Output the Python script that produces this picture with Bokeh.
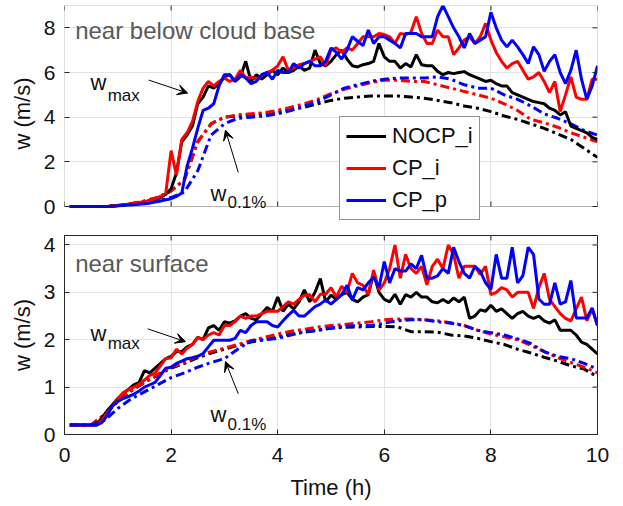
import numpy as np
from bokeh.plotting import figure
from bokeh.layouts import column
from bokeh.models import (Range1d, FixedTicker, Legend, LegendItem,
                          Label, Arrow, VeeHead, BoxAnnotation)
from bokeh.embed import file_html
from bokeh.resources import INLINE

# ---------------- data ----------------
t_max = [round(0.1 * i, 1) for i in range(1, 101)]
t_pct = [0.1, 0.25, 0.5, 0.75, 1.0, 1.25, 1.5, 1.75, 2.0, 2.25, 2.5, 2.75, 3.0, 3.25,
         3.5, 3.75, 4.0, 4.25, 4.5, 4.75, 5.0, 5.25, 5.5, 5.75, 6.0, 6.25, 6.5, 6.75,
         7.0, 7.25, 7.5, 7.75, 8.0, 8.25, 8.5, 8.75, 9.0, 9.25, 9.5, 9.75, 10.0]

# near below cloud base: w_max
cb_max_nocp_i = [0, 0, 0, 0, 0, 0, 0, 0, 0.02,
                 0.05, 0.08, 0.1, 0.12, 0.15, 0.2, 0.25, 0.3, 0.4, 0.55,
                 0.8, 1.5, 2.9, 3.2, 3.6, 4.6, 4.9, 5.4, 5.3, 5.5,
                 5.8, 5.9, 5.6, 5.8, 6.5, 5.6, 5.9, 5.7, 5.9, 6.1,
                 5.9, 6.2, 6.0, 6.1, 6.3, 6.1, 6.2, 7.0, 6.4, 6.3,
                 6.5, 6.8, 7.0, 6.6, 6.3, 6.25, 6.35, 6.4, 6.5, 7.3,
                 6.7, 6.5, 6.5, 6.2, 6.4, 6.25, 6.8, 6.35, 6.3, 6.3,
                 6.05, 5.9, 6.0, 5.95, 6.0, 6.04, 5.9, 5.8, 5.7, 5.6,
                 5.65, 5.5, 5.4, 5.4, 5.1, 5.0, 4.9, 4.8, 4.7, 4.65,
                 4.6, 4.4, 4.3, 4.1, 4.24, 3.6, 3.5, 3.4, 3.3, 3.1,
                 3.0]
cb_max_cp_i = [0, 0, 0, 0, 0, 0, 0, 0, 0.02,
               0.05, 0.08, 0.1, 0.15, 0.18, 0.22, 0.28, 0.35, 0.45, 0.6,
               2.5, 1.4, 3.0, 3.3, 3.8, 4.7, 5.3, 5.6, 5.4, 5.6,
               5.75, 5.6, 5.7, 6.1, 5.75, 5.8, 5.7, 5.85, 6.0, 6.1,
               6.3, 6.7, 6.1, 6.2, 6.35, 6.4, 6.5, 6.6, 6.7, 6.3,
               7.0, 7.1, 6.9, 7.1, 7.0, 7.3, 7.6, 7.6, 7.6, 7.75,
               7.7, 7.6, 7.3, 7.75, 7.7, 7.8, 8.5, 7.75, 7.3, 7.3,
               7.9, 7.6, 7.6, 6.8, 7.1, 7.45, 7.6, 7.3, 7.6, 8.2,
               7.45, 6.9, 6.5, 6.2, 6.4, 6.5, 6.1, 5.7, 5.8, 6.0,
               5.6, 5.1, 5.6, 4.25, 5.0, 5.8, 4.9, 4.8, 4.8, 5.7,
               5.7]
cb_max_cp_p = [0, 0, 0, 0, 0, 0, 0, 0, 0.01,
               0.03, 0.05, 0.07, 0.08, 0.1, 0.12, 0.15, 0.2, 0.25, 0.3,
               0.35, 0.45, 0.6, 1.8, 2.6, 3.5, 4.3, 4.4, 4.6, 5.4,
               5.9, 5.9, 5.6, 5.9, 5.75, 5.5, 5.6, 5.9, 6.0, 5.7,
               6.1, 6.0, 6.0, 6.4, 6.2, 6.4, 6.5, 6.3, 6.3, 6.5,
               7.1, 6.9, 6.6, 7.0, 7.6, 7.4, 7.2, 7.9, 7.3, 7.6,
               7.6, 7.45, 7.3, 7.1, 7.75, 7.75, 7.75, 7.6, 7.6, 7.6,
               8.5, 9.0, 8.5, 8.0, 7.6, 7.1, 7.75, 7.3, 7.45, 7.6,
               8.7, 8.0, 7.45, 7.15, 7.45, 7.15, 6.8, 6.4, 7.15, 6.8,
               6.05, 6.5, 6.8, 6.0, 5.5, 6.1, 7.0, 5.7, 4.8, 5.4,
               6.3]

# near below cloud base: w_0.1%
cb_pct_nocp_i = [0, 0, 0, 0, 0.05, 0.12, 0.25, 0.4, 0.7, 1.2, 2.9, 3.7, 4.0, 4.05,
                 4.1, 4.15, 4.2, 4.35, 4.45, 4.6, 4.75, 4.85, 4.9, 4.95, 4.95, 4.95,
                 4.9, 4.85, 4.75, 4.65, 4.5, 4.4, 4.25, 4.05, 3.9, 3.7, 3.5, 3.25,
                 3.0, 2.6, 2.2]
cb_pct_cp_i = [0, 0, 0, 0, 0.05, 0.12, 0.25, 0.4, 0.7, 1.2, 2.9, 3.7, 4.0, 4.1,
               4.15, 4.2, 4.3, 4.45, 4.6, 4.8, 5.05, 5.25, 5.4, 5.55, 5.65, 5.65,
               5.6, 5.6, 5.45, 5.3, 5.15, 5.0, 4.85, 4.6, 4.3, 3.9, 3.75, 3.55,
               3.3, 3.1, 2.9]
cb_pct_cp_p = [0, 0, 0, 0, 0.03, 0.08, 0.15, 0.25, 0.4, 0.65, 1.6, 3.2, 3.7, 3.95,
               4.0, 4.05, 4.15, 4.3, 4.5, 4.7, 5.0, 5.3, 5.45, 5.6, 5.7, 5.75,
               5.75, 5.75, 5.8, 5.7, 5.45, 5.3, 5.3, 5.0, 4.8, 4.5, 4.15, 3.95,
               3.7, 3.4, 3.2]

# near surface: w_max
sf_max_nocp_i = [0.2, 0.2, 0.2, 0.2, 0.2, 0.2, 0.35, 0.5, 0.63,
                 0.76, 0.87, 0.95, 1.05, 1.1, 1.35, 1.3, 1.4, 1.5, 1.6,
                 1.65, 1.75, 1.75, 1.85, 1.9, 2.05, 2.0, 2.25, 2.3, 2.2,
                 2.38, 2.35, 2.4, 2.5, 2.55, 2.45, 2.42, 2.55, 2.68, 2.6,
                 2.9, 2.6, 2.75, 2.65, 2.8, 3.05, 2.8, 3.0, 3.29, 2.8,
                 2.94, 2.85, 2.95, 3.0, 2.85, 2.8, 2.9, 2.95, 3.4, 3.0,
                 2.85, 2.8, 2.96, 2.75, 2.95, 2.9, 3.0, 2.9, 2.9, 2.8,
                 2.78, 2.85, 2.78, 2.88, 2.8, 2.9, 2.45, 2.5, 2.63, 2.6,
                 2.73, 2.6, 2.65, 2.55, 2.45, 2.55, 2.6, 2.5, 2.45, 2.5,
                 2.4, 2.35, 2.42, 2.2, 2.2, 2.2, 2.1, 1.95, 1.9, 1.8,
                 1.7]
sf_max_cp_i = [0.2, 0.2, 0.2, 0.2, 0.2, 0.2, 0.3, 0.45, 0.6,
               0.75, 0.88, 0.95, 1.0, 1.06, 1.15, 1.25, 1.3, 1.45, 1.6,
               1.62, 1.8, 1.7, 1.82, 1.9, 2.05, 2.0, 2.1, 2.15, 2.1,
               2.3, 2.3, 2.38, 2.5, 2.45, 2.5, 2.5, 2.55, 2.6, 2.6,
               2.6, 2.7, 2.8, 2.75, 2.85, 2.94, 2.95, 2.8, 2.96, 2.96,
               3.1, 2.9, 3.13, 3.0, 3.4, 3.2, 3.15, 2.95, 3.47, 3.05,
               3.2, 3.5, 4.0, 3.3, 3.8, 3.5, 3.4, 3.55, 3.16, 3.55,
               3.7, 3.5, 4.0, 3.8, 3.3, 3.55, 3.55, 3.55, 3.38, 3.55,
               2.95, 3.0, 3.1, 3.05, 2.9, 3.0, 3.0, 3.0, 2.66, 3.1,
               3.4, 2.85, 2.7, 2.55, 2.45, 2.4, 2.65, 2.9, 2.4, 2.65,
               2.3]
sf_max_cp_p = [0.2, 0.2, 0.2, 0.2, 0.2, 0.2, 0.25, 0.4, 0.6,
               0.7, 0.76, 0.8, 0.85, 0.92, 1.0, 1.05, 1.1, 1.25, 1.4,
               1.42, 1.5, 1.55, 1.6, 1.62, 1.65, 1.71, 1.85, 1.99, 1.99,
               1.99, 1.99, 2.03, 2.2, 2.15, 2.3, 2.38, 2.38, 2.38, 2.3,
               2.27, 2.4, 2.52, 2.62, 2.5, 2.5, 2.6, 2.7, 2.75, 2.84,
               2.75, 2.85, 2.95, 3.15, 2.84, 3.1, 3.05, 3.2, 3.32, 3.1,
               3.65, 3.2, 3.5, 3.45, 3.45, 3.6, 3.5, 3.78, 3.3, 3.3,
               3.35, 3.5, 3.4, 3.95, 3.65, 3.4, 3.3, 3.55, 3.45, 3.2,
               3.06, 3.8, 3.3, 3.3, 3.95, 3.2, 3.35, 3.95, 3.8, 2.86,
               2.75, 2.75, 3.2, 2.75, 2.8, 3.25, 2.46, 2.46, 2.46, 2.67,
               2.3]

# near surface: w_0.1%
sf_pct_nocp_i = [0.2, 0.2, 0.2, 0.42, 0.7, 0.92, 1.1, 1.25, 1.4, 1.5, 1.62, 1.72,
                 1.8, 1.88, 1.95, 2.0, 2.06, 2.12, 2.16, 2.2, 2.24, 2.26, 2.27,
                 2.28, 2.28, 2.27, 2.17, 2.17, 2.16, 2.1, 2.08, 2.03, 1.96, 1.9,
                 1.8, 1.72, 1.63, 1.55, 1.45, 1.38, 1.22]
sf_pct_cp_i = [0.2, 0.2, 0.2, 0.42, 0.7, 0.93, 1.1, 1.27, 1.42, 1.52, 1.65, 1.75,
               1.82, 1.9, 1.98, 2.05, 2.12, 2.18, 2.22, 2.27, 2.3, 2.32, 2.35,
               2.38, 2.42, 2.44, 2.44, 2.42, 2.4, 2.36, 2.3, 2.2, 2.12, 2.06,
               2.0, 1.88, 1.75, 1.62, 1.52, 1.42, 1.3]
sf_pct_cp_p = [0.2, 0.2, 0.2, 0.3, 0.55, 0.75, 0.9, 1.05, 1.2, 1.3, 1.42, 1.52,
               1.6, 1.8, 1.98, 2.0, 2.03, 2.1, 2.17, 2.2, 2.25, 2.28, 2.3, 2.3,
               2.35, 2.4, 2.42, 2.42, 2.38, 2.35, 2.3, 2.2, 2.15, 2.1, 2.02,
               1.92, 1.75, 1.65, 1.6, 1.5, 1.38]

series_names = ["NOCP_i", "CP_i", "CP_p"]
colors = ["#000000", "#ff0000", "#0000ff"]
x_ticks = [0, 2, 4, 6, 8, 10]
top_y_ticks = [0, 2, 4, 6, 8]
bot_y_ticks = [0, 1, 2, 3, 4]

FONT = "Liberation Sans"
AX = "#262626"
TXT = "#111111"
GRID = "#e3e3e3"
TICK_PX = 5

# ---- layout geometry (pixels) ----
W, LEFT, RIGHT = 623, 64, 26
TOP_FRAME_TOP, TOP_PANEL_H, LEGEND_OVERHANG = 5, 201, 15
BOT_GAP, BOT_PANEL_H, BOT_BORDER = 13, 199, 73
TOP_YMAX, BOT_YMAX = 9.0, 4.2
frame_w = W - LEFT - RIGHT


def style_axes(p, yticks):
    p.xaxis.ticker = FixedTicker(ticks=x_ticks)
    p.yaxis.ticker = FixedTicker(ticks=yticks)
    for ax in (p.xaxis[0], p.yaxis[0]):
        ax.major_tick_in = TICK_PX
        ax.major_tick_out = 0
        ax.minor_tick_line_color = None
        ax.axis_line_color = AX
        ax.major_tick_line_color = AX
        ax.major_label_text_font = FONT
        ax.major_label_text_font_size = "21px"
        ax.major_label_text_color = TXT
        ax.axis_label_text_font = FONT
        ax.axis_label_text_font_size = "22px"
        ax.axis_label_text_font_style = "normal"
        ax.axis_label_text_color = TXT
    p.yaxis.major_label_standoff = 9
    p.yaxis.axis_label = "w (m/s)"
    p.yaxis.axis_label_standoff = 6
    p.xgrid.grid_line_color = GRID
    p.ygrid.grid_line_color = GRID
    p.xgrid.ticker = FixedTicker(ticks=x_ticks)
    p.ygrid.ticker = FixedTicker(ticks=yticks)


def mirror_ticks(p, ymax, ypx, yticks, bottom_too=False):
    dy = TICK_PX * ymax / ypx
    dx = TICK_PX * 10.0 / frame_w
    p.segment(x0=x_ticks, y0=[ymax] * len(x_ticks), x1=x_ticks,
              y1=[ymax - dy] * len(x_ticks), line_color=AX, line_width=1)
    p.segment(x0=[10] * len(yticks), y0=yticks, x1=[10 - dx] * len(yticks),
              y1=yticks, line_color=AX, line_width=1)
    if bottom_too:
        p.segment(x0=x_ticks, y0=[0] * len(x_ticks), x1=x_ticks,
                  y1=[dy] * len(x_ticks), line_color=AX, line_width=1)


# ---------- top panel: frame extended below 0 so the legend can overhang ----------
top_ystart = -TOP_YMAX * LEGEND_OVERHANG / TOP_PANEL_H
top = figure(width=W, height=TOP_FRAME_TOP + TOP_PANEL_H + LEGEND_OVERHANG + 1,
             x_range=Range1d(0, 10), y_range=Range1d(top_ystart, TOP_YMAX),
             output_backend="svg", toolbar_location=None,
             min_border_left=LEFT, min_border_right=RIGHT,
             min_border_top=TOP_FRAME_TOP, min_border_bottom=1)
top.outline_line_color = None
style_axes(top, top_y_ticks)
top.xaxis.visible = False
top.yaxis.axis_line_color = None
# white mask for the strip below the panel
top.add_layout(BoxAnnotation(left=0, right=10, bottom=top_ystart, top=0,
                             fill_color="white", fill_alpha=1.0, line_color=None,
                             level="underlay"))

bot = figure(width=W, height=BOT_GAP + BOT_PANEL_H + BOT_BORDER,
             x_range=Range1d(0, 10), y_range=Range1d(0, BOT_YMAX),
             output_backend="svg", toolbar_location=None,
             min_border_left=LEFT, min_border_right=RIGHT,
             min_border_top=BOT_GAP, min_border_bottom=BOT_BORDER)
bot.outline_line_color = AX
style_axes(bot, bot_y_ticks)
bot.xaxis.major_label_standoff = 13
bot.xaxis.axis_label = "Time (h)"
bot.xaxis.axis_label_standoff = 10

DASH = "9 4 3 4"
top_max = [cb_max_nocp_i, cb_max_cp_i, cb_max_cp_p]
top_pct = [cb_pct_nocp_i, cb_pct_cp_i, cb_pct_cp_p]
bot_max = [sf_max_nocp_i, sf_max_cp_i, sf_max_cp_p]
bot_pct = [sf_pct_nocp_i, sf_pct_cp_i, sf_pct_cp_p]

legend_items = []
for i in range(3):
    top.line(t_pct, top_pct[i], line_color=colors[i], line_width=3, line_dash=DASH)
    bot.line(t_pct, bot_pct[i], line_color=colors[i], line_width=3, line_dash=DASH)
for i in range(3):
    r = top.line(t_max, top_max[i], line_color=colors[i], line_width=3)
    bot.line(t_max, bot_max[i], line_color=colors[i], line_width=3)
    legend_items.append(LegendItem(label=series_names[i], renderers=[r]))

mirror_ticks(top, TOP_YMAX, TOP_PANEL_H, top_y_ticks, bottom_too=True)
mirror_ticks(bot, BOT_YMAX, BOT_PANEL_H, bot_y_ticks)

# box around the top panel
top.add_layout(BoxAnnotation(left=0, right=10, bottom=0, top=TOP_YMAX,
                             fill_alpha=0, line_color=AX, line_width=1))

GRAY = "#595959"
top.add_layout(Label(x=0.2, y=7.87, text="near below cloud base", text_font=FONT,
                     text_font_size="24px", text_color=GRAY, text_baseline="alphabetic"))
bot.add_layout(Label(x=0.2, y=3.6, text="near surface", text_font=FONT,
                     text_font_size="24px", text_color=GRAY, text_baseline="alphabetic"))


def annotate(p, wx, wy, sub, sx, sy, a_start, a_end):
    p.add_layout(Label(x=wx, y=wy, text="w", text_font=FONT, text_font_size="22px",
                       text_color=TXT, text_baseline="alphabetic"))
    p.add_layout(Label(x=sx, y=sy, text=sub, text_font=FONT, text_font_size="17px",
                       text_color=TXT, text_baseline="alphabetic"))
    p.add_layout(Arrow(end=VeeHead(size=10, fill_color="black", line_color="black"),
                       x_start=a_start[0], y_start=a_start[1], x_end=a_end[0], y_end=a_end[1],
                       line_color="black", line_width=1))


annotate(top, 0.49, 5.53, "max", 0.81, 4.99, (1.58, 5.66), (2.31, 5.08))
annotate(top, 2.74, 0.58, "0.1%", 3.06, 0.18, (3.26, 1.53), (3.02, 3.42))
annotate(bot, 0.49, 2.13, "max", 0.81, 1.92, (1.56, 2.23), (2.27, 1.96))
annotate(bot, 2.74, 0.42, "0.1%", 3.06, 0.22, (3.26, 0.86), (3.02, 1.54))

legend = Legend(items=legend_items, location=(275, 1), orientation="vertical",
                label_text_font=FONT, label_text_font_size="22px", label_text_color=TXT,
                glyph_width=40, glyph_height=20, label_height=20, label_standoff=6,
                padding=6, spacing=6, margin=0,
                border_line_color=AX, border_line_width=1,
                background_fill_color="white", background_fill_alpha=1.0)
top.add_layout(legend)

layout = column(top, bot, spacing=0)
open("out.html", "w").write(file_html(layout, INLINE))
